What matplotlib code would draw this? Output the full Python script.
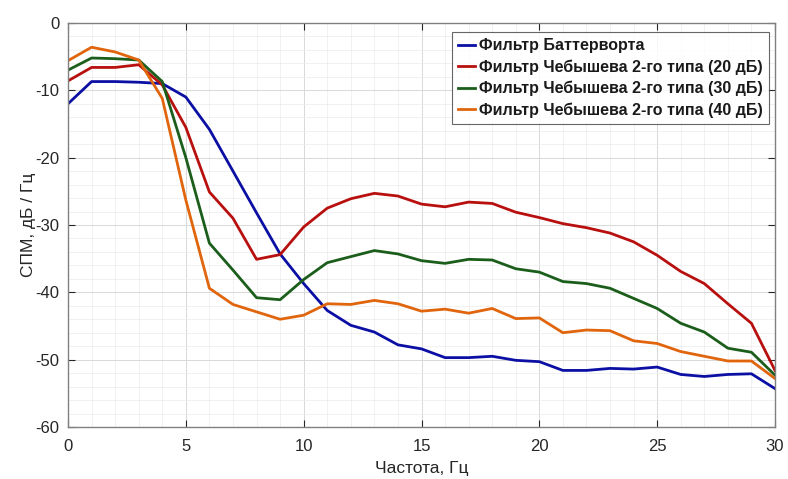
import matplotlib
matplotlib.use("Agg")
import matplotlib.pyplot as plt
from matplotlib.ticker import MultipleLocator

plt.rcParams['font.family'] = ['Liberation Sans', 'DejaVu Sans']
plt.rcParams['axes.unicode_minus'] = False

freq = list(range(0, 31))
butter = [-12.0, -8.7, -8.7, -8.8, -9.0, -11.0, -15.8, -22.0, -28.2, -34.3, -38.7, -42.7, -44.9, -45.9, -47.8, -48.4,
          -49.7, -49.7, -49.5, -50.1, -50.3, -51.6, -51.6, -51.3, -51.4, -51.1, -52.2, -52.5, -52.2, -52.1, -54.3]
cheb20 = [-8.6, -6.6, -6.6, -6.2, -9.2, -15.5, -25.1, -29.0, -35.1, -34.4, -30.3, -27.5, -26.1, -25.3, -25.7, -26.9,
          -27.3, -26.6, -26.8, -28.1, -28.9, -29.8, -30.4, -31.2, -32.5, -34.5, -36.9, -38.7, -41.7, -44.6, -51.6]
cheb30 = [-7.0, -5.2, -5.3, -5.5, -8.7, -20.0, -32.7, -36.7, -40.8, -41.1, -38.1, -35.6, -34.7, -33.8, -34.3, -35.3,
          -35.7, -35.1, -35.2, -36.5, -37.0, -38.4, -38.7, -39.4, -40.9, -42.4, -44.6, -45.9, -48.3, -48.9, -52.3]
cheb40 = [-5.6, -3.6, -4.3, -5.5, -11.2, -26.3, -39.4, -41.8, -42.9, -44.0, -43.4, -41.7, -41.8, -41.2, -41.7, -42.8,
          -42.5, -43.1, -42.4, -43.9, -43.8, -46.0, -45.6, -45.7, -47.2, -47.6, -48.8, -49.5, -50.2, -50.2, -52.8]
labels = ["Фильтр Баттерворта",
          "Фильтр Чебышева 2-го типа (20 дБ)",
          "Фильтр Чебышева 2-го типа (30 дБ)",
          "Фильтр Чебышева 2-го типа (40 дБ)"]
colors = ['#0b0fa3', '#b8100f', '#1b5e1b', '#e0650d']

fig = plt.figure(figsize=(7.88, 4.79), dpi=100)
ax = fig.add_axes([0.0863, 0.1086, 0.8972, 0.8434])

for y, lab, c in zip([butter, cheb20, cheb30, cheb40], labels, colors):
    ax.plot(freq, y, color=c, lw=2.0, label=lab)

ax.set_xlim(0, 30)
ax.set_ylim(-60, 0)
ax.xaxis.set_major_locator(MultipleLocator(5))
ax.xaxis.set_minor_locator(MultipleLocator(1))
ax.yaxis.set_major_locator(MultipleLocator(10))
ax.yaxis.set_minor_locator(MultipleLocator(2))
ax.grid(which='major', color='#d8d8d8', lw=0.7)
ax.grid(which='minor', color='#ececec', lw=0.5)
ax.set_axisbelow(True)
ax.tick_params(which='both', direction='in', top=True, right=True, labelsize=12, colors='#262626')
ax.tick_params(which='minor', length=0)
ax.tick_params(axis='x', which='major', length=5, pad=9)
ax.tick_params(axis='y', which='major', length=5, pad=6)
for s in ax.spines.values():
    s.set_color('#808080')
    s.set_linewidth(1.0)

ax.set_xlabel("Частота, Гц", fontsize=12.5, color='#262626', labelpad=5)
ax.set_ylabel("СПМ, дБ / Гц", fontsize=12.5, color='#262626', labelpad=0)

leg = ax.legend(loc='upper right', bbox_to_anchor=(0.998, 0.99),
                prop={'weight': 'bold', 'size': 11.5}, frameon=True, fancybox=False,
                handlelength=1.1, handletextpad=0.2, borderpad=0.4, labelspacing=0.38,
                borderaxespad=0.3)
leg.get_frame().set_edgecolor('#404040')
leg.get_frame().set_linewidth(0.8)
for t in leg.get_texts():
    t.set_color('#1a1a1a')

fig.savefig("out.png", dpi=100)
